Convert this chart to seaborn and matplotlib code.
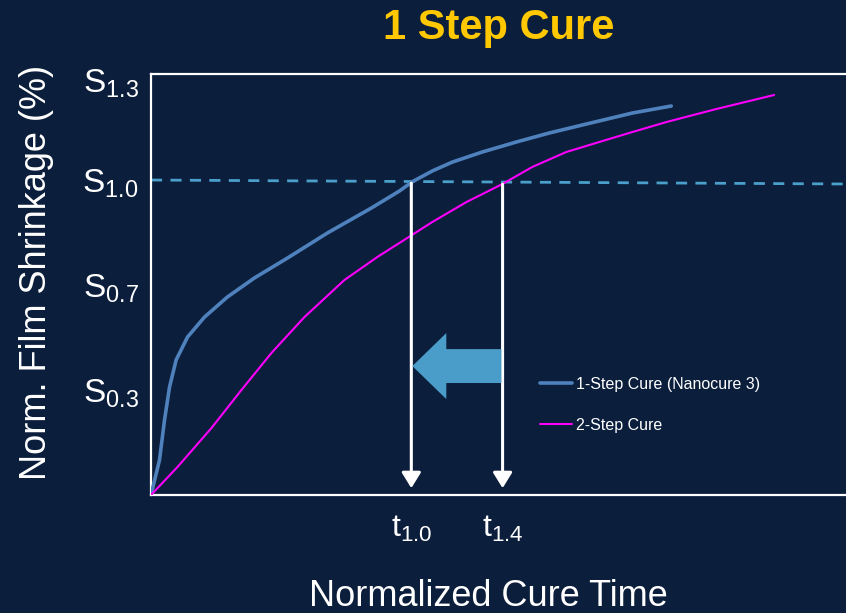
import matplotlib
matplotlib.use("Agg")
import matplotlib.pyplot as plt
import seaborn as sns
import pandas as pd
import numpy as np

# Data (x: normalized cure time, y: shrinkage in tick steps)
one_step_x = [0.0, 0.049, 0.078, 0.107, 0.145, 0.211, 0.309, 0.441, 0.597, 0.788,
              1.018, 1.272, 1.434, 1.509, 1.624, 1.740, 1.913, 2.109, 2.300, 2.490,
              2.779, 3.004]
one_step_y = [0.0, 0.333, 0.714, 1.029, 1.286, 1.505, 1.695, 1.886, 2.067, 2.257,
              2.495, 2.733, 2.895, 2.984, 3.086, 3.171, 3.267, 3.362, 3.448, 3.524,
              3.638, 3.705]
two_step_x = [0.0, 0.153, 0.349, 0.522, 0.695, 0.886, 1.117, 1.307, 1.434, 1.624,
              1.821, 2.029, 2.201, 2.398, 2.588, 2.779, 2.975, 3.263, 3.598]
two_step_y = [0.0, 0.267, 0.638, 1.0, 1.352, 1.695, 2.048, 2.267, 2.400, 2.600,
              2.790, 2.962, 3.124, 3.267, 3.362, 3.457, 3.552, 3.676, 3.810]
series_names = ["1-Step Cure (Nanocure 3)", "2-Step Cure"]

ytick_pos = [1, 2, 3, 3.95]
ytick_labels = [r"S$_{0.3}$", r"S$_{0.7}$", r"S$_{1.0}$", r"S$_{1.3}$"]
xtick_pos = [1, 2, 3]

# reference level S1.0 (dashed) and the two cure times
ref_x = [0.0, 4.03]
ref_y = [3.0, 2.962]
drop_x = [1.503, 2.03]
drop_top = [2.97, 2.96]
drop_labels = [r"t$_{1.0}$", r"t$_{1.4}$"]

bg = "#0B1E3C"
colors = ["#4F81BD", "#FF00FF"]
widths = [2.6, 1.5]

one_df = pd.DataFrame({"x": one_step_x, "y": one_step_y})
two_df = pd.DataFrame({"x": two_step_x, "y": two_step_y})

sns.set_style("dark")
plt.rcParams["font.family"] = ["Liberation Sans", "DejaVu Sans"]
plt.rcParams["mathtext.fontset"] = "custom"
plt.rcParams["mathtext.rm"] = "Liberation Sans"
plt.rcParams["mathtext.it"] = "Liberation Sans"
plt.rcParams["mathtext.default"] = "regular"

fig = plt.figure(figsize=(8.46, 6.13), dpi=100, facecolor=bg)
ax = fig.add_axes([0.1785, 0.1925, 0.825, 0.6868])
ax.set_facecolor(bg)

ax.plot(ref_x, ref_y, color="#4A9FCB", lw=2, dashes=(4, 3), zorder=1)

for d, name, c, w in zip([one_df, two_df], series_names, colors, widths):
    sns.lineplot(data=d, x="x", y="y", color=c, lw=w, sort=False, estimator=None,
                 label=name, ax=ax, zorder=3)

# white drop arrows
for x, top in zip(drop_x, drop_top):
    ax.annotate("", xy=(x, 0.065), xytext=(x, top),
                arrowprops=dict(arrowstyle="-|>,head_length=0.47,head_width=0.29",
                                color="white", lw=2.2, mutation_scale=20,
                                shrinkA=0, shrinkB=0), zorder=4)
for x, lab in zip(drop_x, drop_labels):
    ax.text(x, -0.32, lab, color="white", fontsize=23, ha="center", va="center")

# big "shift" arrow
ax.arrow(2.023, 1.228, -0.514, 0, width=0.323, head_width=0.629, head_length=0.196,
         length_includes_head=True, color="#4B9DC9", lw=0, zorder=5)

ax.set_xlim(0, 4.03)
ax.set_ylim(0, 4.01)
ax.set_xticks(xtick_pos)
ax.set_xticklabels([])
ax.set_yticks(ytick_pos)
ax.set_yticklabels(ytick_labels, fontsize=24, color="white")
ax.tick_params(axis="x", direction="in", length=4, width=1, color="white")
ax.tick_params(axis="y", direction="in", length=5, width=1, color="white", pad=9)
ax.grid(False)
for side in ["left", "bottom", "top"]:
    ax.spines[side].set_visible(True)
    ax.spines[side].set_color("white")
    ax.spines[side].set_linewidth(1.6)
ax.spines["right"].set_visible(False)

ax.set_xlabel("")
ax.set_ylabel("")
fig.text(37 / 846, 1 - 272 / 613, "Norm. Film Shrinkage (%)", rotation=90,
         color="white", fontsize=26, ha="center", va="center")
fig.text(488 / 846, 1 - 597 / 613, "Normalized Cure Time", color="white",
         fontsize=26, ha="center", va="center")
fig.text(499 / 846, 1 - 28 / 613, "1 Step Cure", color="#FFC800", fontsize=30,
         fontweight="bold", ha="center", va="center")

handles, labels = ax.get_legend_handles_labels()
leg = ax.legend(handles, labels, loc="upper left", bbox_to_anchor=(0.558, 0.281),
                frameon=False, fontsize=11.5, handlelength=2.0, handletextpad=0.25,
                labelspacing=1.65, borderpad=0, borderaxespad=0)
for t in leg.get_texts():
    t.set_color("white")

fig.savefig("out.png", dpi=100, facecolor=bg)
